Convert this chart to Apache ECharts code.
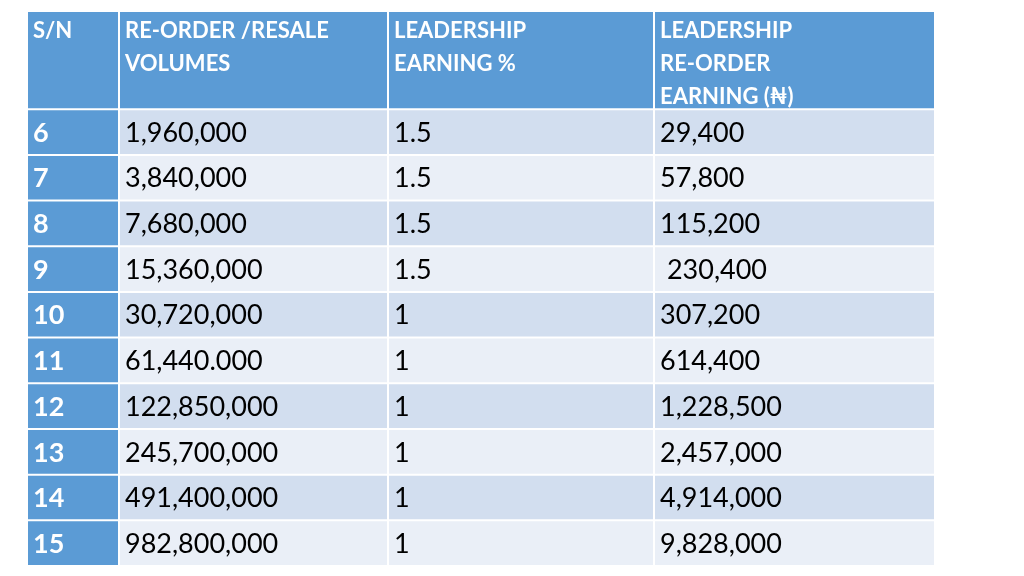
<!DOCTYPE html>
<html><head><meta charset="utf-8">
<script src="https://cdn.jsdelivr.net/npm/echarts@6/dist/echarts.min.js"></script>
<style>html,body{margin:0;padding:0;background:#fff}#c{width:1024px;height:576px}</style>
</head><body><div id="c"></div>
<script>
const headers = ['S/N', 'RE-ORDER /RESALE\nVOLUMES', 'LEADERSHIP\nEARNING %', 'LEADERSHIP\nRE-ORDER\nEARNING (\u20A6)'];
const serialNumbers = ['6', '7', '8', '9', '10', '11', '12', '13', '14', '15'];
const volumes = ['1,960,000', '3,840,000', '7,680,000', '15,360,000', '30,720,000', '61,440.000', '122,850,000', '245,700,000', '491,400,000', '982,800,000'];
const earningPercent = ['1.5', '1.5', '1.5', '1.5', '1', '1', '1', '1', '1', '1'];
const reorderEarning = ['29,400', '57,800', '115,200', ' 230,400', '307,200', '614,400', '1,228,500', '2,457,000', '4,914,000', '9,828,000'];

const colEdges = [0, 92, 361, 627, 908];
const headerUnits = 2.15;
const FONT = 'Lato, "Open Sans", sans-serif';

const cells = [];
headers.forEach((t, c) => cells.push({ value: [c, -1], text: t, kind: 'header' }));
serialNumbers.forEach((sn, i) => {
  [sn, volumes[i], earningPercent[i], reorderEarning[i]].forEach((t, c) => {
    cells.push({ value: [c, i], text: t, kind: c === 0 ? 'sn' : (i % 2 === 0 ? 'odd' : 'even') });
  });
});

const fills = { header: '#5B9BD5', sn: '#5B9BD5', odd: '#D2DEEF', even: '#EAEFF7' };

const chart = echarts.init(document.getElementById('c'));
chart.setOption({
  animation: false,
  grid: { left: 27, right: 89, top: 11, bottom: 10 },
  xAxis: { type: 'value', min: 0, max: 908, show: false },
  yAxis: { type: 'value', min: 0, max: headerUnits + 10, inverse: true, show: false },
  series: [{
    type: 'custom',
    coordinateSystem: 'cartesian2d',
    clip: false,
    encode: { x: 0, y: 1 },
    data: cells,
    renderItem: (params, api) => {
      const cell = cells[params.dataIndex];
      const c = api.value(0), r = api.value(1);
      const y0 = r < 0 ? 0 : headerUnits + r;
      const y1 = r < 0 ? headerUnits : headerUnits + r + 1;
      const p0 = api.coord([colEdges[c], y0]);
      const p1 = api.coord([colEdges[c + 1], y1]);
      const x = p0[0] + 1, y = p0[1] + 1, w = p1[0] - p0[0] - 2, h = p1[1] - p0[1] - 2;
      const isHeader = cell.kind === 'header';
      const textEl = isHeader ? {
        type: 'text',
        style: {
          text: cell.text, x: x + 5, y: y + 2, fill: '#fff',
          font: 'bold 22px ' + FONT, lineHeight: 33,
          verticalAlign: 'top', align: 'left'
        }
      } : {
        type: 'text',
        style: {
          text: cell.text, x: x + 5, y: y + h / 2 + 1,
          fill: cell.kind === 'sn' ? '#fff' : '#000',
          font: (cell.kind === 'sn' ? 'bold ' : '') + '27px ' + FONT,
          verticalAlign: 'middle', align: 'left'
        }
      };
      return {
        type: 'group',
        children: [
          { type: 'rect', shape: { x: x, y: y, width: w, height: h }, style: { fill: fills[cell.kind] } },
          textEl
        ]
      };
    }
  }]
});
</script>
</body></html>
